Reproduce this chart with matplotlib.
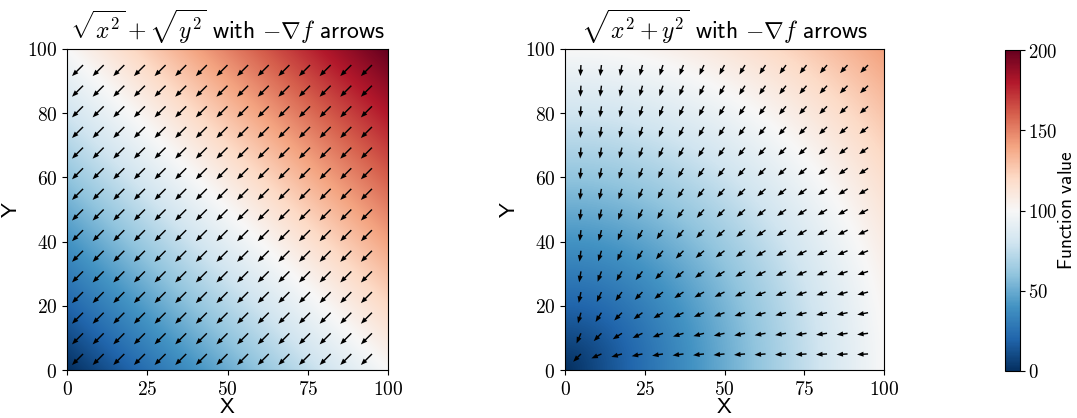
import numpy as np
import matplotlib
matplotlib.use("Agg")
import matplotlib.pyplot as plt

plt.rcParams['mathtext.fontset'] = 'cm'

# Grid / data definition
x_range = [0, 100]
y_range = [0, 100]
n_img = 400
arrow_start, arrow_stop, n_arrows = 5, 95, 15
vmin, vmax = 0, 200
cbar_ticks = [0, 50, 100, 150, 200]
xticks = [0, 25, 50, 75, 100]
yticks = [0, 20, 40, 60, 80, 100]
titles = [r'$\sqrt{x^2}+\sqrt{y^2}$ $\mathsf{with}$ $-\nabla f$ $\mathsf{arrows}$',
          r'$\sqrt{x^2+y^2}$ $\mathsf{with}$ $-\nabla f$ $\mathsf{arrows}$']
cbar_label = r'$\mathsf{Function\ value}$'

xs = np.linspace(x_range[0], x_range[1], n_img)
ys = np.linspace(y_range[0], y_range[1], n_img)
X, Y = np.meshgrid(xs, ys)
xa = np.linspace(arrow_start, arrow_stop, n_arrows)
XA, YA = np.meshgrid(xa, xa)

def f1(x, y):
    return np.sqrt(x**2) + np.sqrt(y**2)

def g1(x, y):
    return np.sign(x) * np.ones_like(y), np.sign(y) * np.ones_like(x)

def f2(x, y):
    return np.sqrt(x**2 + y**2)

def g2(x, y):
    r = np.sqrt(x**2 + y**2)
    return x / r, y / r

funcs = [(f1, g1), (f2, g2)]

fig = plt.figure(figsize=(10.77, 4.18), dpi=100)
W, H = 1077, 418
axes_px = [(67, 49, 321, 321), (565, 49, 319, 321)]

im = None
for (fx, gx), (l, t, w, h), title in zip(funcs, axes_px, titles):
    ax = fig.add_axes([l / W, (H - t - h) / H, w / W, h / H])
    Z = fx(X, Y)
    im = ax.imshow(Z, extent=[x_range[0], x_range[1], y_range[0], y_range[1]],
                   origin='lower', cmap='RdBu_r', vmin=vmin, vmax=vmax,
                   aspect='auto', interpolation='bilinear')
    U, V = gx(XA, YA)
    ax.quiver(XA, YA, -U, -V, angles='xy', scale_units='xy', scale=0.29,
              width=0.0045, headwidth=3.5, headlength=4.5, color='black')
    ax.set_xlim(x_range)
    ax.set_ylim(y_range)
    ax.set_xticks(xticks)
    ax.set_yticks(yticks)
    ax.set_xticklabels([f'${v}$' for v in xticks], fontsize=14)
    ax.set_yticklabels([f'${v}$' for v in yticks], fontsize=14)
    ax.set_xlabel(r'$\mathsf{X}$', fontsize=16, labelpad=-1)
    ax.set_ylabel(r'$\mathsf{Y}$', fontsize=16, labelpad=4)
    ax.set_title(title, fontsize=17, pad=7)

cax = fig.add_axes([1005 / W, (H - 50 - 321) / H, 15 / W, 321 / H])
cb = fig.colorbar(im, cax=cax, ticks=cbar_ticks)
cb.ax.set_yticklabels([f'${v}$' for v in cbar_ticks], fontsize=13.5)
cb.ax.tick_params(pad=2)
fig.text(1067 / W, 1 - 210 / H, cbar_label, rotation=90, ha='center',
         va='center', fontsize=14)

fig.savefig('out.png', dpi=100)
